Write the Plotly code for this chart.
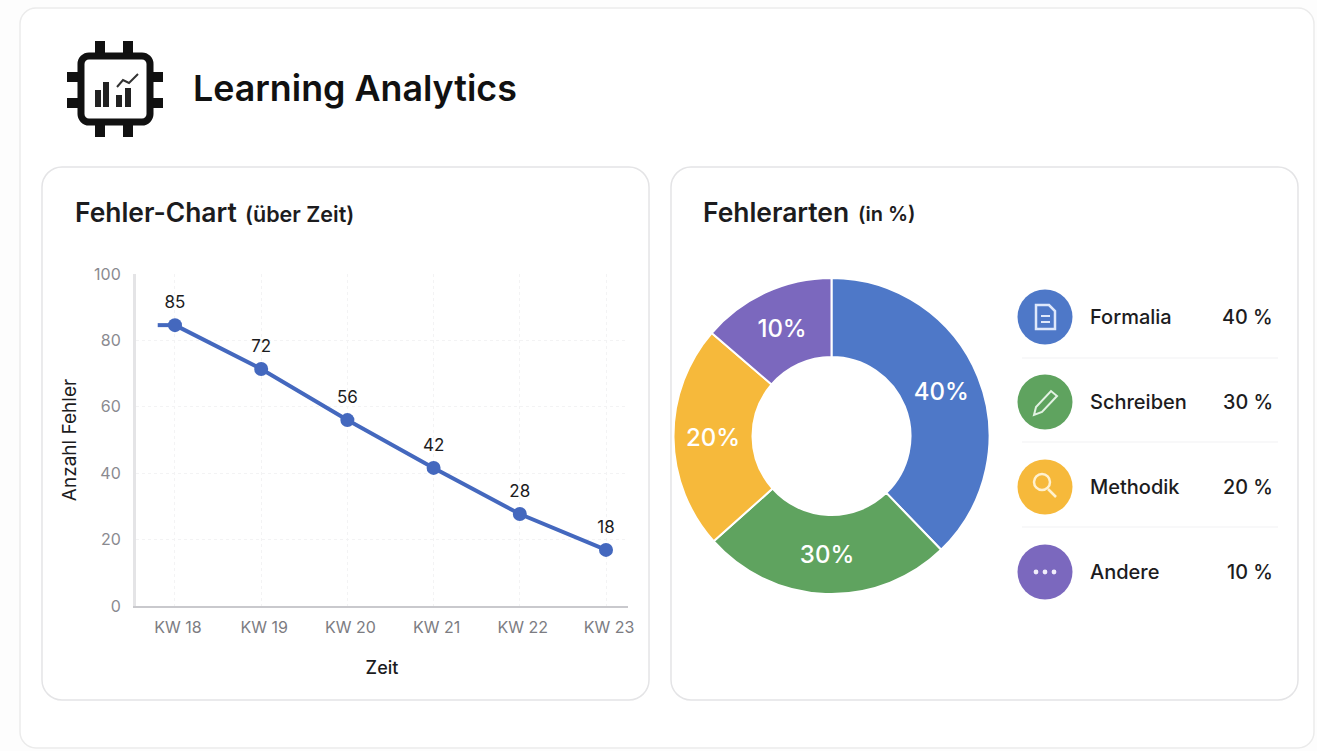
import plotly.graph_objects as go

W, H = 1317, 751

# ---- data ----
weeks = ["KW 18", "KW 19", "KW 20", "KW 21", "KW 22", "KW 23"]
week_pos = [0, 1, 2, 3, 4, 5]
errors_drawn = [84.6, 71.4, 56, 41.6, 27.7, 16.9]
errors_label = ["85", "72", "56", "42", "28", "18"]
y_ticks = [0, 20, 40, 60, 80, 100]
cats = ["Formalia", "Schreiben", "Methodik", "Andere"]
shares_drawn = [37.8, 25.6, 22.9, 13.7]
share_text = ["40%", "30%", "20%", "10%"]
share_rows = ["40 %", "30 %", "20 %", "10 %"]
colors = ["#4E78C8", "#5FA35F", "#F6B93B", "#7B68BE"]

FONT = "Inter"
DARK = "#1c1c1e"


def px(x):
    return x / W


def py(y):
    return 1 - y / H


def P(points, close=False):
    s = "M" + " L".join(f"{px(a):.5f},{py(b):.5f}" for a, b in points)
    return s + (" Z" if close else "")


def rrect(x0, y0, x1, y1, r):
    k = r * 0.45
    c = lambda a, b, d, e, f, g: (
        f"C{px(a):.5f},{py(b):.5f} {px(d):.5f},{py(e):.5f} {px(f):.5f},{py(g):.5f}"
    )
    return (
        f"M{px(x0 + r):.5f},{py(y0):.5f} L{px(x1 - r):.5f},{py(y0):.5f} "
        + c(x1 - k, y0, x1, y0 + k, x1, y0 + r)
        + f" L{px(x1):.5f},{py(y1 - r):.5f} "
        + c(x1, y1 - k, x1 - k, y1, x1 - r, y1)
        + f" L{px(x0 + r):.5f},{py(y1):.5f} "
        + c(x0 + k, y1, x0, y1 - k, x0, y1 - r)
        + f" L{px(x0):.5f},{py(y0 + r):.5f} "
        + c(x0, y0 + k, x0 + k, y0, x0 + r, y0)
        + " Z"
    )


shapes = []


def add_path(path, fill="rgba(0,0,0,0)", line=None, width=0, layer="below"):
    shapes.append(dict(type="path", xref="paper", yref="paper", path=path,
                       fillcolor=fill, layer=layer,
                       line=dict(color=line or "rgba(0,0,0,0)", width=width)))


def add_circle(cx, cy, r, fill, layer="below", line=None, width=0):
    shapes.append(dict(type="circle", xref="paper", yref="paper",
                       x0=px(cx - r), x1=px(cx + r), y0=py(cy + r), y1=py(cy - r),
                       fillcolor=fill, layer=layer,
                       line=dict(color=line or "rgba(0,0,0,0)", width=width)))


def box(x0, y0, x1, y1, fill, layer="below"):
    shapes.append(dict(type="rect", xref="paper", yref="paper",
                       x0=px(x0), x1=px(x1), y0=py(y1), y1=py(y0),
                       fillcolor=fill, layer=layer, line=dict(width=0)))


# cards
add_path(rrect(20, 8, 1314, 748, 16), fill="#ffffff", line="#ebebeb", width=1.5)
add_path(rrect(42, 167, 649, 700, 20), fill="#ffffff", line="#e4e4e6", width=1.5)
add_path(rrect(671, 167, 1298, 700, 20), fill="#ffffff", line="#e4e4e6", width=1.5)

# chip icon
for a in (100, 128):
    box(a - 5, 41, a + 5, 54, "#111111")
    box(a - 5, 124, a + 5, 137, "#111111")
for b in (77, 103):
    box(67, b - 5, 79, b + 5, "#111111")
    box(151, b - 5, 163, b + 5, "#111111")
add_path(rrect(81, 56, 150, 122, 8), fill="#ffffff", line="#111111", width=7)
for a0, a1, top in ((95, 101, 90), (103, 109, 82), (116, 122, 95), (125, 131, 88)):
    box(a0, top, a1, 107, "#222222")
add_path(P([(117, 87), (123, 80), (129, 83), (138, 74)]), line="#333333", width=2)

# legend rows
row_y = [317, 402, 487, 572]
for c, y in zip(colors, row_y):
    add_circle(1045, y, 27.5, c)
for y in (358, 442, 527):
    box(1022, y - 0.5, 1278, y + 0.5, "#f1f1f3")

ICON = "#dfe8fb"
# document icon
add_path(P([(1036, 305), (1049, 305), (1055, 311), (1055, 329), (1036, 329)], True),
         line=ICON, width=2.5, layer="above")
for y in (316, 322):
    box(1041, y - 1, 1050, y + 1, ICON, layer="above")
# pencil icon
add_path(P([(1034, 415), (1036, 407), (1051, 391), (1057, 396), (1042, 412)], True),
         line="#e3f2e3", width=2, layer="above")
# magnifier icon
add_circle(1042, 482, 8, "rgba(0,0,0,0)", layer="above", line="#fff1cf", width=2.5)
add_path(P([(1048, 489), (1056, 497)]), line="#fff1cf", width=2.5, layer="above")
# dots icon
for a in (1036, 1045, 1054):
    add_circle(a, 572, 2.4, "#f1eefb", layer="above")

# ---- annotations ----
ann = []


def T(x, y, text, size, color=DARK, weight=400, anchor="left", angle=0):
    off = -2 if anchor == "left" else 2
    ann.append(dict(xref="paper", yref="paper", x=px(x + off), y=py(y), text=text,
                    showarrow=False, xanchor=anchor, yanchor="middle", textangle=angle,
                    font=dict(family=FONT, size=size, color=color, weight=weight)))


T(193, 88, "Learning Analytics", 35.8, "#111111", 600)
T(75, 212, "Fehler-Chart", 26.4, DARK, 600)
T(245, 214, "(über Zeit)", 21.5, DARK, 600)
T(703, 212, "Fehlerarten", 26.4, DARK, 600)
T(858, 214, "(in %)", 20, DARK, 600)
for name, val, y in zip(cats, share_rows, row_y):
    T(1090, y, name, 20, DARK, 500)
    T(1273, y, val, 19.8, DARK, 500, anchor="right")

# ---- plot ----
fig = go.Figure()

fig.add_trace(go.Scatter(
    x=[-0.2, 0], y=errors_drawn[:1] * 2, mode="lines",
    line=dict(color="#4468BE", width=4), hoverinfo="skip", showlegend=False))
fig.add_trace(go.Scatter(
    x=week_pos, y=errors_drawn, mode="lines+markers",
    line=dict(color="#4468BE", width=4),
    marker=dict(color="#4468BE", size=14),
    showlegend=False))
# value labels, lifted a little above the markers
fig.add_trace(go.Scatter(
    x=week_pos, y=errors_drawn, mode="markers+text",
    text=errors_label, textposition="top center",
    textfont=dict(family=FONT, size=17, color=DARK),
    marker=dict(size=19, opacity=0),
    hoverinfo="skip", showlegend=False))

fig.add_trace(go.Pie(
    labels=cats, values=shares_drawn, text=share_text, textinfo="text",
    sort=False, direction="clockwise", rotation=0, hole=0.5,
    marker=dict(colors=colors, line=dict(color="#ffffff", width=2)),
    textposition="inside", insidetextorientation="horizontal",
    textfont=dict(family=FONT, size=24, color="#ffffff", weight=500),
    domain=dict(x=[px(831.5 - 158), px(831.5 + 158)], y=[py(436 + 158), py(436 - 158)]),
    showlegend=False))

fig.update_layout(
    width=W, height=H, autosize=False,
    margin=dict(l=0, r=0, t=0, b=0, autoexpand=False),
    paper_bgcolor="#fdfdfd", plot_bgcolor="rgba(0,0,0,0)",
    shapes=shapes, annotations=ann,
    xaxis=dict(
        domain=[px(136), px(628)], range=[-0.452, 5.255],
        tickmode="array", tickvals=week_pos, ticktext=weeks,
        tickfont=dict(family=FONT, size=16, color="#7c7c82"),
        ticklabelstandoff=6, ticklabelshift=3,
        showgrid=True, gridcolor="#f3f3f4", griddash="dot", gridwidth=1,
        showline=True, linecolor="#c9c9cd", linewidth=2, zeroline=False, ticks="",
        automargin=False,
        title=dict(text="Zeit", font=dict(family=FONT, size=18, color=DARK, weight=500), standoff=25),
    ),
    yaxis=dict(
        domain=[py(606), py(274)], range=[0, 100],
        tickmode="array", tickvals=y_ticks,
        tickfont=dict(family=FONT, size=16, color="#8a8a90"),
        ticklabelstandoff=9,
        showgrid=True, gridcolor="#f3f3f4", griddash="dot", gridwidth=1,
        showline=True, linecolor="#e4e4e6", linewidth=3, zeroline=False, ticks="",
        automargin=False,
        title=dict(text="Anzahl Fehler", font=dict(family=FONT, size=19, color=DARK), standoff=13),
    ),
)

fig.write_html("out.html", config=dict(displayModeBar=False),
               post_script="document.body.style.margin='0';document.body.style.overflow='hidden';")
